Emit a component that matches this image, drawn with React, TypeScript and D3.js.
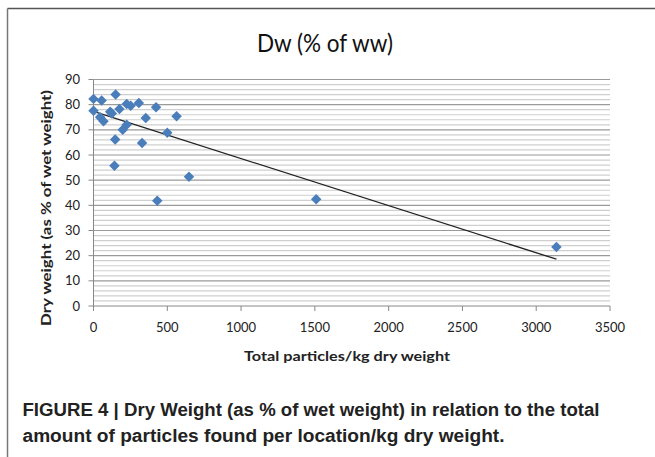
import React from "react";
import * as d3 from "d3";

const xValues = [0, 0, 55, 150, 45, 68, 113, 124, 176, 225, 252, 307, 424, 354, 563, 198, 225, 147, 329, 500, 142, 647, 432, 1509, 3137];
const yValues = [82.3, 77.6, 81.7, 84, 75, 73.4, 77.2, 76.5, 78.3, 80.3, 79.6, 80.7, 79, 74.7, 75.4, 70, 72, 66.2, 64.8, 68.8, 55.7, 51.4, 41.8, 42.4, 23.4];
const trendX = [0, 3137];
const trendY = [77.3, 18.6];
const xTicks = [0, 500, 1000, 1500, 2000, 2500, 3000, 3500];
const yTicks = [0, 10, 20, 30, 40, 50, 60, 70, 80, 90];
const minorY = d3.range(0, 91, 2);

const W = 655, H = 457;
const L = 93.5, R = 610, T = 79.5, B = 306;

export default function App() {
  const x = d3.scaleLinear().domain([0, 3500]).range([L, R]);
  const y = d3.scaleLinear().domain([0, 90]).range([B, T]);
  const line = d3.line<number>().x((d, i) => x(trendX[i])).y((d) => y(d));
  const font = "Lato, 'Open Sans', sans-serif";
  const capFont = "'Liberation Sans Narrow', 'Liberation Sans', Arial, sans-serif";
  const diamond = d3.symbol().type(d3.symbolDiamond2).size(70)();
  return (
    <svg width={W} height={H} style={{ position: "absolute", left: 0, top: 0, background: "#fff" }}>
      <rect x={0} y={0} width={W} height={H} fill="#fff" />
      <line x1={7.5} y1={8.5} x2={W} y2={8.5} stroke="#555" strokeWidth={1.5} />
      <line x1={7.5} y1={8.5} x2={7.5} y2={H} stroke="#777" strokeWidth={1.5} />
      <text x={325} y={52} textAnchor="middle" fontFamily={font} fontSize={25} fill="#111" textLength={136} lengthAdjust="spacingAndGlyphs">Dw (% of ww)</text>
      {minorY.filter((v) => v % 10 !== 0).map((v) => (
        <line key={"m" + v} x1={L} x2={R} y1={y(v)} y2={y(v)} stroke="#cfcfcf" strokeWidth={1.2} />
      ))}
      {yTicks.filter((v) => v !== 0).map((v) => (
        <line key={"g" + v} x1={L} x2={R} y1={y(v)} y2={y(v)} stroke="#9a9a9a" strokeWidth={1.2} />
      ))}
      <line x1={L} x2={L} y1={T} y2={B} stroke="#888" strokeWidth={1} />
      <line x1={L} x2={R} y1={B} y2={B} stroke="#888" strokeWidth={1} />
      {yTicks.map((v) => (
        <g key={"yt" + v}>
          <line x1={L - 5} x2={L} y1={y(v)} y2={y(v)} stroke="#888" />
          <text x={80} y={y(v) + 4.5} textAnchor="end" fontFamily={font} fontSize={13} fill="#222">{v}</text>
        </g>
      ))}
      {xTicks.map((v) => (
        <g key={"xt" + v}>
          <line x1={x(v)} x2={x(v)} y1={B} y2={B + 5} stroke="#888" />
          <text x={x(v)} y={B + 26} textAnchor="middle" fontFamily={font} fontSize={13} fill="#222">{v}</text>
        </g>
      ))}
      <path d={line(trendY) || ""} fill="none" stroke="#222" strokeWidth={1.3} />
      {xValues.map((v, i) => (
        <path key={"p" + i} d={diamond || ""} transform={`translate(${x(v)},${y(yValues[i])})`} fill="#4a7ebb" />
      ))}
      <text transform={`translate(51,208) rotate(-90)`} textAnchor="middle" fontFamily={font} fontSize={14} fontWeight="bold" fill="#222" textLength={236} lengthAdjust="spacingAndGlyphs">Dry weight (as  % of wet weight)</text>
      <text x={347} y={361} textAnchor="middle" fontFamily={font} fontSize={14} fontWeight="bold" fill="#222" textLength={206} lengthAdjust="spacingAndGlyphs">Total particles/kg dry weight</text>
      <text x={22.5} y={416} fontFamily={capFont} fontSize={18} fontWeight="bold" fill="#222" textLength={577} lengthAdjust="spacingAndGlyphs">FIGURE 4 | Dry Weight (as % of wet weight) in relation to the total</text>
      <text x={22.5} y={442} fontFamily={capFont} fontSize={18} fontWeight="bold" fill="#222" textLength={482} lengthAdjust="spacingAndGlyphs">amount of particles found per location/kg dry weight.</text>
    </svg>
  );
}
